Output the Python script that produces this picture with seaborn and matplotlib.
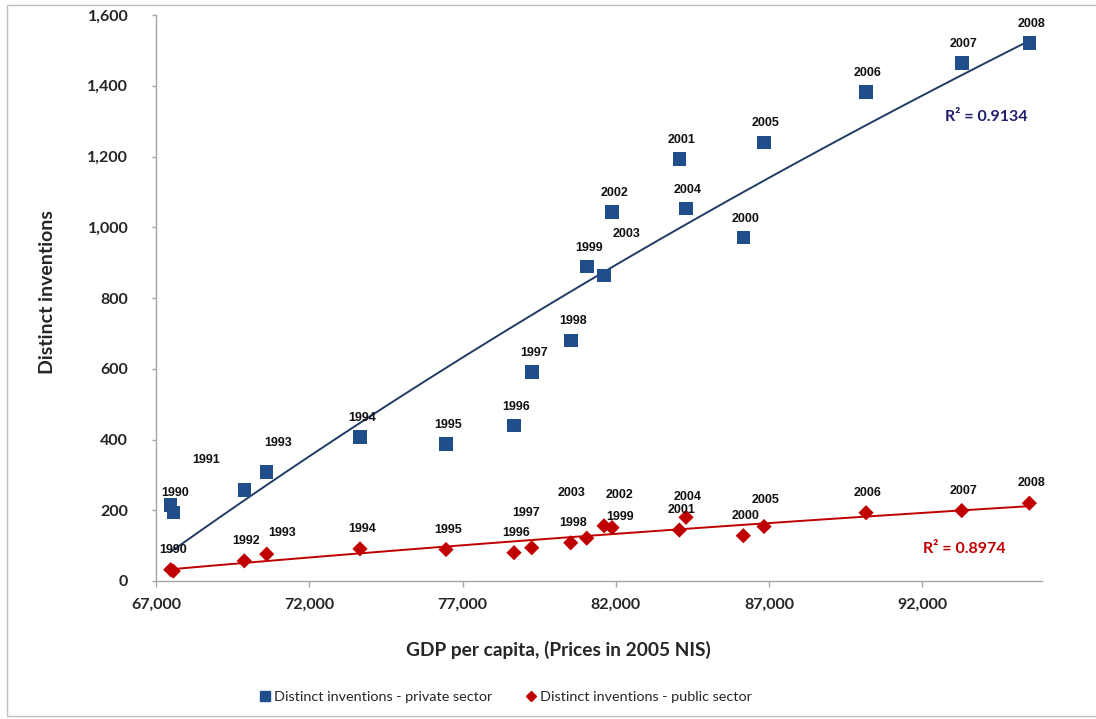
import seaborn as sns
import matplotlib.pyplot as plt
import matplotlib.patches as mpatches
from matplotlib.lines import Line2D
from matplotlib.ticker import FuncFormatter, MultipleLocator
import pandas as pd

# data
years = list(range(1990, 2009))
gdp = [67480, 67564, 69880, 70611, 73654, 76460, 78678, 79256, 80528, 81050,
       86158, 84071, 81875, 81614, 84289, 86833, 90160, 93282, 95488]
private = [215, 193, 258, 308, 407, 388, 439, 591, 680, 889,
           971, 1193, 1043, 864, 1053, 1240, 1382, 1464, 1521]
public = [32, 28, 57, 76, 91, 89, 80, 94, 108, 121,
          128, 144, 151, 156, 180, 154, 193, 199, 220]
x_ticks = [67000, 72000, 77000, 82000, 87000, 92000]
r2_private = "R² = 0.9134"
r2_public = "R² = 0.8974"

# label offsets in pixels (None = no label)
priv_off = {1990: (4, 12), 1991: (33, 53), 1992: None, 1993: (11, 29), 2003: (23, 41)}
pub_off = {1991: None, 1993: (15, 21), 1997: (-6, 35), 1999: (33, 21),
           2003: (-32, 33), 2002: (7, 33), 2005: (2, 27)}

BLUE = '#1F4E8A'
BLUE_LINE = '#203C66'
RED = '#C00000'
GREY = '#A6A6A6'

df = pd.DataFrame({'year': years, 'gdp': gdp, 'private': private, 'public': public})

sns.set_style('white')
plt.rcParams['font.family'] = ['Lato', 'DejaVu Sans']

fig = plt.figure(figsize=(10.96, 7.19), dpi=100)
ax = fig.add_axes([156 / 1096, 1 - 581 / 719, 886 / 1096, 566 / 719])

# logarithmic trend lines
sns.regplot(data=df, x='gdp', y='private', scatter=False, ci=None, logx=True, ax=ax,
            line_kws={'color': BLUE_LINE, 'lw': 1.4})
sns.regplot(data=df, x='gdp', y='public', scatter=False, ci=None, logx=True, ax=ax,
            line_kws={'color': RED, 'lw': 1.4})

# points
sns.scatterplot(data=df, x='gdp', y='private', marker='s', s=95, color=BLUE,
                edgecolor='none', ax=ax, zorder=3)
sns.scatterplot(data=df, x='gdp', y='public', marker='D', s=60, color=RED,
                edgecolor='none', ax=ax, zorder=3)

# year labels
for yr, xv, yv in zip(years, gdp, private):
    off = priv_off.get(yr, (2, 19))
    if off is None:
        continue
    ax.annotate(str(yr), (xv, yv), xytext=off, textcoords='offset pixels',
                ha='center', va='center', fontsize=9, fontweight='bold',
                family='Liberation Sans', color='#111111')
for yr, xv, yv in zip(years, gdp, public):
    off = pub_off.get(yr, (2, 20))
    if off is None:
        continue
    ax.annotate(str(yr), (xv, yv), xytext=off, textcoords='offset pixels',
                ha='center', va='center', fontsize=9, fontweight='bold',
                family='Liberation Sans', color='#111111')

ax.text(0.9376, 0.819, r2_private, transform=ax.transAxes, ha='center', va='center',
        fontsize=11.5, fontweight='bold', color='#1F1F6B')
ax.text(0.912, 0.0566, r2_public, transform=ax.transAxes, ha='center', va='center',
        fontsize=11.5, fontweight='bold', color=RED)

# axes
ax.set_xlim(67000, 95900)
ax.set_ylim(0, 1600)
ax.set_xticks(x_ticks)
ax.yaxis.set_major_locator(MultipleLocator(200))
fmt = FuncFormatter(lambda v, p: f'{int(v):,}')
ax.xaxis.set_major_formatter(fmt)
ax.yaxis.set_major_formatter(fmt)
sns.despine(ax=ax)
for sp in ['left', 'bottom']:
    ax.spines[sp].set_color(GREY)
    ax.spines[sp].set_linewidth(1)
ax.tick_params(axis='y', direction='out', length=3, color=GREY, width=1, pad=17,
               labelsize=11.5, left=True)
ax.tick_params(axis='x', direction='out', length=4, color=GREY, width=1, pad=8,
               labelsize=11.5, bottom=True)
for lab in ax.get_xticklabels() + ax.get_yticklabels():
    lab.set_fontweight('bold')

ax.set_xlabel('GDP per capita, (Prices in 2005 NIS)', fontsize=13.8, fontweight='bold')
ax.set_ylabel('Distinct inventions', fontsize=14, fontweight='bold')
ax.xaxis.label.set_va('center')
ax.yaxis.label.set_va('center')
ax.xaxis.set_label_coords(0.4537, -0.122)
ax.yaxis.set_label_coords(-0.1219, 0.51)

# legend at the bottom
handles = [Line2D([], [], marker='s', ls='none', color=BLUE, markersize=7),
           Line2D([], [], marker='D', ls='none', color=RED, markersize=5.5)]
fig.legend(handles, ['Distinct inventions - private sector',
                     'Distinct inventions - public sector'],
           loc='center', bbox_to_anchor=(505 / 1096, 1 - 697 / 719), ncol=2,
           frameon=False, fontsize=10.4, handletextpad=0.1, columnspacing=2.2,
           handlelength=1)

# outer chart frame
fig.patches.append(mpatches.Rectangle((7 / 1096, 3 / 719), 1.1, 711 / 719,
                                      transform=fig.transFigure, fill=False,
                                      edgecolor='#BFBFBF', lw=1))

fig.savefig('out.png', dpi=100)
